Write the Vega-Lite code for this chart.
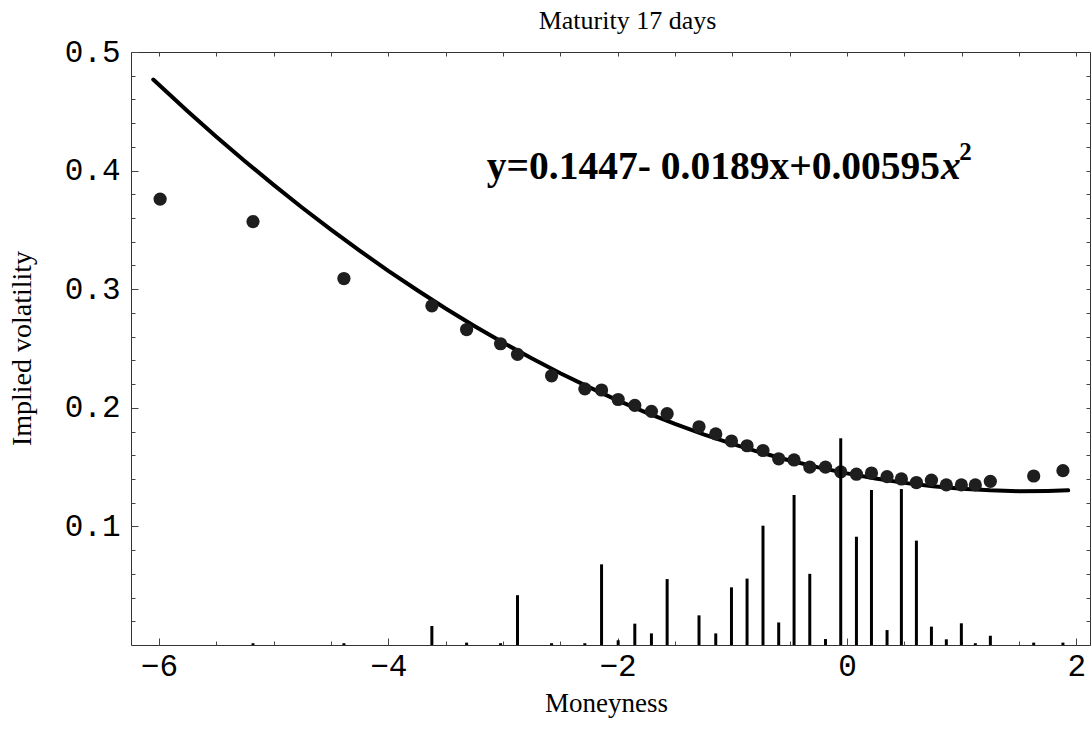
{
  "$schema": "https://vega.github.io/schema/vega-lite/v6.json",
  "autosize": "none",
  "width": 959,
  "height": 593,
  "padding": {"left": 131, "top": 52, "right": 1, "bottom": 95},
  "background": "white",
  "config": {
    "view": {"stroke": "#333333", "strokeWidth": 1},
    "axis": {"domain": false, "grid": false, "tickColor": "#444444", "tickWidth": 1}
  },
  "title": {"text": "Maturity 17 days", "font": "Liberation Serif", "fontSize": 26, "fontWeight": "normal", "color": "black", "offset": 2, "dx": 17},
  "datasets": {
    "pts": [
      {"m": -5.99, "iv": 0.376, "vol": 0},
      {"m": -5.18, "iv": 0.357, "vol": 0.0015},
      {"m": -4.387, "iv": 0.309, "vol": 0.0015},
      {"m": -3.62, "iv": 0.286, "vol": 0.016},
      {"m": -3.317, "iv": 0.266, "vol": 0.002},
      {"m": -3.021, "iv": 0.254, "vol": 0.0015},
      {"m": -2.873, "iv": 0.245, "vol": 0.042},
      {"m": -2.576, "iv": 0.227, "vol": 0.0015},
      {"m": -2.286, "iv": 0.216, "vol": 0.0015},
      {"m": -2.14, "iv": 0.215, "vol": 0.068},
      {"m": -1.995, "iv": 0.207, "vol": 0.004},
      {"m": -1.85, "iv": 0.202, "vol": 0.018},
      {"m": -1.705, "iv": 0.197, "vol": 0.0098},
      {"m": -1.568, "iv": 0.195, "vol": 0.0556},
      {"m": -1.29, "iv": 0.184, "vol": 0.025},
      {"m": -1.144, "iv": 0.178, "vol": 0.0098},
      {"m": -1.007, "iv": 0.172, "vol": 0.0486},
      {"m": -0.871, "iv": 0.168, "vol": 0.056},
      {"m": -0.732, "iv": 0.164, "vol": 0.1006},
      {"m": -0.595, "iv": 0.157, "vol": 0.019},
      {"m": -0.461, "iv": 0.156, "vol": 0.1265},
      {"m": -0.324, "iv": 0.150, "vol": 0.060},
      {"m": -0.187, "iv": 0.150, "vol": 0.005},
      {"m": -0.054, "iv": 0.146, "vol": 0.1743},
      {"m": 0.083, "iv": 0.144, "vol": 0.0913},
      {"m": 0.214, "iv": 0.145, "vol": 0.1307},
      {"m": 0.35, "iv": 0.142, "vol": 0.0126},
      {"m": 0.475, "iv": 0.140, "vol": 0.1315},
      {"m": 0.606, "iv": 0.137, "vol": 0.088},
      {"m": 0.737, "iv": 0.139, "vol": 0.0155},
      {"m": 0.867, "iv": 0.135, "vol": 0.0048},
      {"m": 0.998, "iv": 0.135, "vol": 0.0183},
      {"m": 1.12, "iv": 0.135, "vol": 0.0015},
      {"m": 1.251, "iv": 0.138, "vol": 0.0078},
      {"m": 1.629, "iv": 0.1425, "vol": 0.002},
      {"m": 1.884, "iv": 0.147, "vol": 0.002}
    ],
    "fit": [
      {"m": -6.05, "iv": 0.4768}, {"m": -5.75, "iv": 0.4501}, {"m": -5.5, "iv": 0.4286},
      {"m": -5.25, "iv": 0.4079}, {"m": -5.0, "iv": 0.3880}, {"m": -4.75, "iv": 0.3687},
      {"m": -4.5, "iv": 0.3502}, {"m": -4.25, "iv": 0.3325}, {"m": -4.0, "iv": 0.3155},
      {"m": -3.75, "iv": 0.2993}, {"m": -3.5, "iv": 0.2837}, {"m": -3.25, "iv": 0.2690},
      {"m": -3.0, "iv": 0.2550}, {"m": -2.75, "iv": 0.2417}, {"m": -2.5, "iv": 0.2291},
      {"m": -2.25, "iv": 0.2174}, {"m": -2.0, "iv": 0.2063}, {"m": -1.75, "iv": 0.1960},
      {"m": -1.5, "iv": 0.1864}, {"m": -1.25, "iv": 0.1776}, {"m": -1.0, "iv": 0.1696},
      {"m": -0.75, "iv": 0.1622}, {"m": -0.5, "iv": 0.1556}, {"m": -0.25, "iv": 0.1498},
      {"m": 0.0, "iv": 0.1447}, {"m": 0.25, "iv": 0.1404}, {"m": 0.5, "iv": 0.1367},
      {"m": 0.75, "iv": 0.1339}, {"m": 1.0, "iv": 0.1318}, {"m": 1.25, "iv": 0.1304},
      {"m": 1.5, "iv": 0.1297}, {"m": 1.75, "iv": 0.1299}, {"m": 1.93, "iv": 0.1304}
    ],
    "eq": [{"label": "equation"}]
  },
  "resolve": {"axis": {"x": "independent", "y": "independent"}},
  "layer": [
    {
      "data": {"name": "fit"},
      "mark": {"type": "line", "color": "black", "strokeWidth": 4, "strokeCap": "round"},
      "encoding": {
        "x": {"field": "m", "type": "quantitative", "scale": {"domain": [-6.244, 2.12], "nice": false, "zero": false},
          "axis": {"orient": "bottom", "values": [-6, -4, -2, 0, 2], "tickSize": -7, "labelPadding": 13,
            "labelFont": "Liberation Mono", "labelFontSize": 31, "labelColor": "black", "labelFlush": false,
            "title": "Moneyness", "titleFont": "Liberation Serif", "titleFontSize": 27, "titleFontWeight": "normal", "titleColor": "black",
            "titleX": 475, "titleY": 58, "titleBaseline": "middle", "titleAlign": "center"}},
        "y": {"field": "iv", "type": "quantitative", "scale": {"domain": [0, 0.5], "nice": false},
          "axis": {"orient": "left", "values": [0.1, 0.2, 0.3, 0.4, 0.5], "tickSize": -7, "labelPadding": 18,
            "labelFont": "Liberation Mono", "labelFontSize": 31, "labelColor": "black", "labelFlush": false,
            "title": "Implied volatility", "titleFont": "Liberation Serif", "titleFontSize": 28, "titleFontWeight": "normal", "titleColor": "black",
            "titleX": -109, "titleY": 296, "titleAngle": -90, "titleBaseline": "middle", "titleAlign": "center"}}
      }
    },
    {
      "data": {"name": "pts"},
      "mark": {"type": "point", "filled": true, "size": 175, "color": "#1e1e1e", "opacity": 1},
      "encoding": {
        "x": {"field": "m", "type": "quantitative", "scale": {"domain": [-6.244, 2.12], "nice": false, "zero": false},
          "axis": {"orient": "bottom", "values": [-6, -5.5, -5, -4.5, -4, -3.5, -3, -2.5, -2, -1.5, -1, -0.5, 0, 0.5, 1, 1.5, 2], "tickSize": -4, "labels": false, "title": null}},
        "y": {"field": "iv", "type": "quantitative", "scale": {"domain": [0, 0.5], "nice": false},
          "axis": {"orient": "left", "values": [0.02, 0.04, 0.06, 0.08, 0.1, 0.12, 0.14, 0.16, 0.18, 0.2, 0.22, 0.24, 0.26, 0.28, 0.3, 0.32, 0.34, 0.36, 0.38, 0.4, 0.42, 0.44, 0.46, 0.48], "tickSize": -4, "labels": false, "title": null}}
      }
    },
    {
      "data": {"name": "pts"},
      "mark": {"type": "rule", "color": "black", "strokeWidth": 3},
      "encoding": {
        "x": {"field": "m", "type": "quantitative", "scale": {"domain": [-6.244, 2.12], "nice": false, "zero": false},
          "axis": {"orient": "top", "values": [-6, -5.5, -5, -4.5, -4, -3.5, -3, -2.5, -2, -1.5, -1, -0.5, 0, 0.5, 1, 1.5, 2], "tickSize": -4, "labels": false, "title": null}},
        "y": {"field": "vol", "type": "quantitative", "scale": {"domain": [0, 0.5], "nice": false},
          "axis": {"orient": "right", "values": [0.02, 0.04, 0.06, 0.08, 0.1, 0.12, 0.14, 0.16, 0.18, 0.2, 0.22, 0.24, 0.26, 0.28, 0.3, 0.32, 0.34, 0.36, 0.38, 0.4, 0.42, 0.44, 0.46, 0.48], "tickSize": -4, "labels": false, "title": null}},
        "y2": {"datum": 0}
      }
    },
    {
      "data": {"name": "eq"},
      "mark": {"type": "text", "text": "y=0.1447-  0.0189x+0.00595", "font": "Liberation Serif", "fontSize": 39.5, "fontWeight": "bold", "align": "right", "baseline": "alphabetic", "color": "black"},
      "encoding": {
        "x": {"datum": 0.812, "type": "quantitative", "axis": null},
        "y": {"datum": 0.393, "type": "quantitative", "axis": null}
      }
    },
    {
      "data": {"name": "eq"},
      "mark": {"type": "text", "text": "x", "font": "Liberation Serif", "fontSize": 39.5, "fontWeight": "bold", "fontStyle": "italic", "align": "left", "baseline": "alphabetic", "color": "black"},
      "encoding": {
        "x": {"datum": 0.82, "type": "quantitative", "axis": null},
        "y": {"datum": 0.393, "type": "quantitative", "axis": null}
      }
    },
    {
      "data": {"name": "eq"},
      "mark": {"type": "text", "text": "2", "font": "Liberation Serif", "fontSize": 25, "fontWeight": "bold", "align": "left", "baseline": "alphabetic", "color": "black"},
      "encoding": {
        "x": {"datum": 0.98, "type": "quantitative", "axis": null},
        "y": {"datum": 0.409, "type": "quantitative", "axis": null}
      }
    }
  ]
}
